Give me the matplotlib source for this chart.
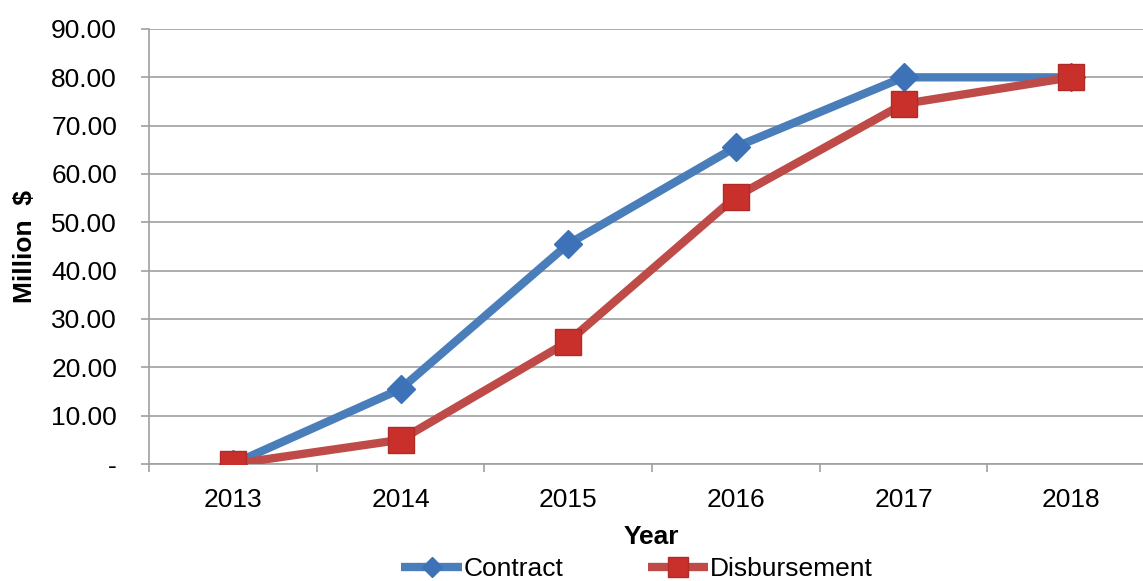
import matplotlib
matplotlib.use("Agg")
import matplotlib.pyplot as plt
from matplotlib.ticker import FixedLocator, NullFormatter

years = ["2013", "2014", "2015", "2016", "2017", "2018"]
contract = [0.0, 15.5, 45.5, 65.6, 80.0, 80.0]
disbursement = [0.0, 5.0, 25.3, 55.3, 74.5, 80.0]
yticks = [0, 10, 20, 30, 40, 50, 60, 70, 80, 90]
ytick_labels = ["-", "10.00", "20.00", "30.00", "40.00", "50.00", "60.00", "70.00", "80.00", "90.00"]

plt.rcParams['font.family'] = ['Liberation Sans', 'DejaVu Sans']

fig = plt.figure(figsize=(11.43, 5.81), dpi=100)
W, H = 1143, 581
left, right = 149, 1155
top, bottom = 29, 464
ax = fig.add_axes([left / W, 1 - bottom / H, (right - left) / W, (bottom - top) / H])

x = list(range(len(years)))
ax.plot(x, contract, color="#4a7ebb", lw=6, marker="D", ms=14,
        mfc="#3d72b8", mec="#3d72b8", label="Contract", zorder=3, solid_capstyle="butt")
ax.plot(x, disbursement, color="#be4b48", lw=6, marker="s", ms=19,
        mfc="#c9302c", mec="#b02a27", mew=1, label="Disbursement", zorder=4, solid_capstyle="butt")

ax.set_xlim(-0.5, len(years) - 0.5)
ax.set_ylim(0, 90)
ax.set_yticks(yticks)
ax.set_yticklabels(ytick_labels, fontsize=19)
ax.set_xticks(x)
ax.set_xticklabels(years, fontsize=19)
ax.xaxis.set_minor_locator(FixedLocator([i - 0.5 for i in range(len(years) + 1)]))
ax.xaxis.set_minor_formatter(NullFormatter())
ax.tick_params(axis="x", which="major", length=0, pad=17)
ax.tick_params(axis="x", which="minor", length=6, color="#a0a0a0", width=1.2)
ax.tick_params(axis="y", length=6, color="#a0a0a0", width=1.2, pad=17)

ax.grid(axis="y", color="#a0a0a0", lw=1.2)
ax.set_axisbelow(True)
for s in ["top", "right"]:
    ax.spines[s].set_visible(False)
for s in ["left", "bottom"]:
    ax.spines[s].set_color("#a0a0a0")
    ax.spines[s].set_linewidth(1.2)

ax.set_ylabel("Million  $", fontsize=19, fontweight="bold", va="center")
ax.yaxis.set_label_coords((25 - left) / (right - left), 0.5)
ax.set_xlabel("Year", fontsize=19, fontweight="bold", va="center")
ax.xaxis.set_label_coords((651 - left) / (right - left), -(537 - bottom) / (bottom - top))

fig.legend(loc="center", bbox_to_anchor=(637 / W, 1 - 569 / H), ncol=2, frameon=False,
           fontsize=19, handlelength=2.3, columnspacing=3.2, handletextpad=0.05,
           markerscale=0.75)

fig.savefig("out.png", dpi=100)
